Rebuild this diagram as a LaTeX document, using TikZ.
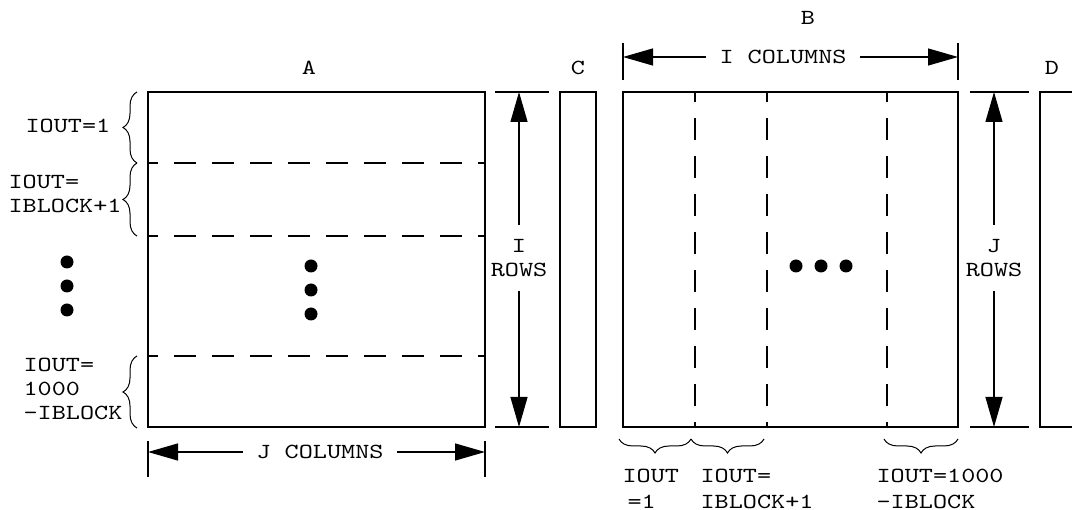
\documentclass[tikz,border=0pt]{standalone}
\usepackage{fontspec}
\setmainfont{lmmono10-regular.otf}[FakeStretch=1.25]
\usetikzlibrary{arrows.meta,decorations.pathreplacing}

\begin{document}
\begin{tikzpicture}[x=1pt, y=-1pt, line width=1.2pt, >={Triangle[length=30pt,width=17pt]}, font=\fontsize{21.5}{24}\selectfont, inner sep=0pt]
	\tikzset{split/.style={dash pattern=on 22pt off 16pt, dash phase=12pt},
		curly/.style={decorate, decoration={brace, amplitude=14pt}, line width=1pt},
		dimv/.style={inner ysep=14pt, align=center},
		dimh/.style={inner xsep=13pt},
		lbl/.style={anchor=north west, align=left},
		bigdot/.style={circle, fill, minimum size=13pt}}
	\useasboundingbox (0,0) rectangle (1072,510);

	%MATRICES
	\coordinate (Anw) at (148,92);	\coordinate (Ase) at (485,427);
	\coordinate (Cnw) at (560,92);	\coordinate (Cse) at (596,427);
	\coordinate (Bnw) at (623,92);	\coordinate (Bse) at (958,427);
	\draw (Anw) rectangle (Ase);
	\draw (Cnw) rectangle (Cse);
	\draw (Bnw) rectangle (Bse);
	\draw (1072,92) -- (1040,92) -- (1040,427) -- (1072,427);

	\node (labA) at (309,68) {A};
	\node (labB) at (808,18) {B};
	\node (labC) at (578,68) {C};
	\node (labD) at (1052,68) {D};

	%BLOQUES
	\foreach \y in {163,236,356}
		\draw[split] (148,\y) -- (485,\y);
	\foreach \x in {695,767,887}
		\draw[split] (\x,92) -- (\x,427);

	\foreach \y/\n in {266/1,290/2,314/3}
		\node[bigdot] (dA\n) at (311,\y) {};
	\foreach \y/\n in {262/1,286/2,310/3}
		\node[bigdot] (dL\n) at (67,\y) {};
	\foreach \x/\n in {796/1,821/2,846/3}
		\node[bigdot] (dB\n) at (\x,266) {};

	%LLAVES
	\draw[curly] (137,163) -- (137,92);
	\draw[curly] (137,236) -- (137,163);
	\draw[curly] (137,428) -- (137,356);
	\draw[curly] (691,439) -- (619,439);
	\draw[curly] (764,439) -- (691,439);
	\draw[curly] (958,439) -- (884,439);

	\node[lbl] (out1)  at (25,119)  {IOUT=1};
	\node[lbl] (out2)  at (8,175)   {IOUT=\\IBLOCK+1};
	\node[lbl] (out3)  at (23,358)  {IOUT=\\1000\\-IBLOCK};
	\node[lbl] (col1)  at (622,469) {IOUT\\[2pt]\hspace*{5pt}=1};
	\node[lbl] (col2)  at (700,469) {IOUT=\\[2pt]IBLOCK+1};
	\node[lbl] (col3)  at (876,469) {IOUT=1000\\[2pt]-IBLOCK};

	%COTAS
	\draw (148,441) -- (148,477)  (485,441) -- (485,477);
	\node[dimh] (Jcol) at (320,452) {J COLUMNS};
	\draw[->] (Jcol.west) -- (Jcol.west -| Anw);
	\draw[->] (Jcol.east) -- (Jcol.east -| Ase);

	\draw (623,43) -- (623,80)  (958,43) -- (958,80);
	\node[dimh] (Icol) at (783,57) {I COLUMNS};
	\draw[->] (Icol.west) -- (Icol.west -| Bnw);
	\draw[->] (Icol.east) -- (Icol.east -| Bse);

	\draw (495,92) -- (549,92)  (495,427) -- (549,427);
	\node[dimv] (Irow) at (519,258) {I\\ROWS};
	\draw[->] (Irow.north) -- (Irow.north |- Anw);
	\draw[->] (Irow.south) -- (Irow.south |- Ase);

	\draw (970,92) -- (1029,92)  (970,427) -- (1029,427);
	\node[dimv] (Jrow) at (994,258) {J\\ROWS};
	\draw[->] (Jrow.north) -- (Jrow.north |- Bnw);
	\draw[->] (Jrow.south) -- (Jrow.south |- Bse);
\end{tikzpicture}
\end{document}
